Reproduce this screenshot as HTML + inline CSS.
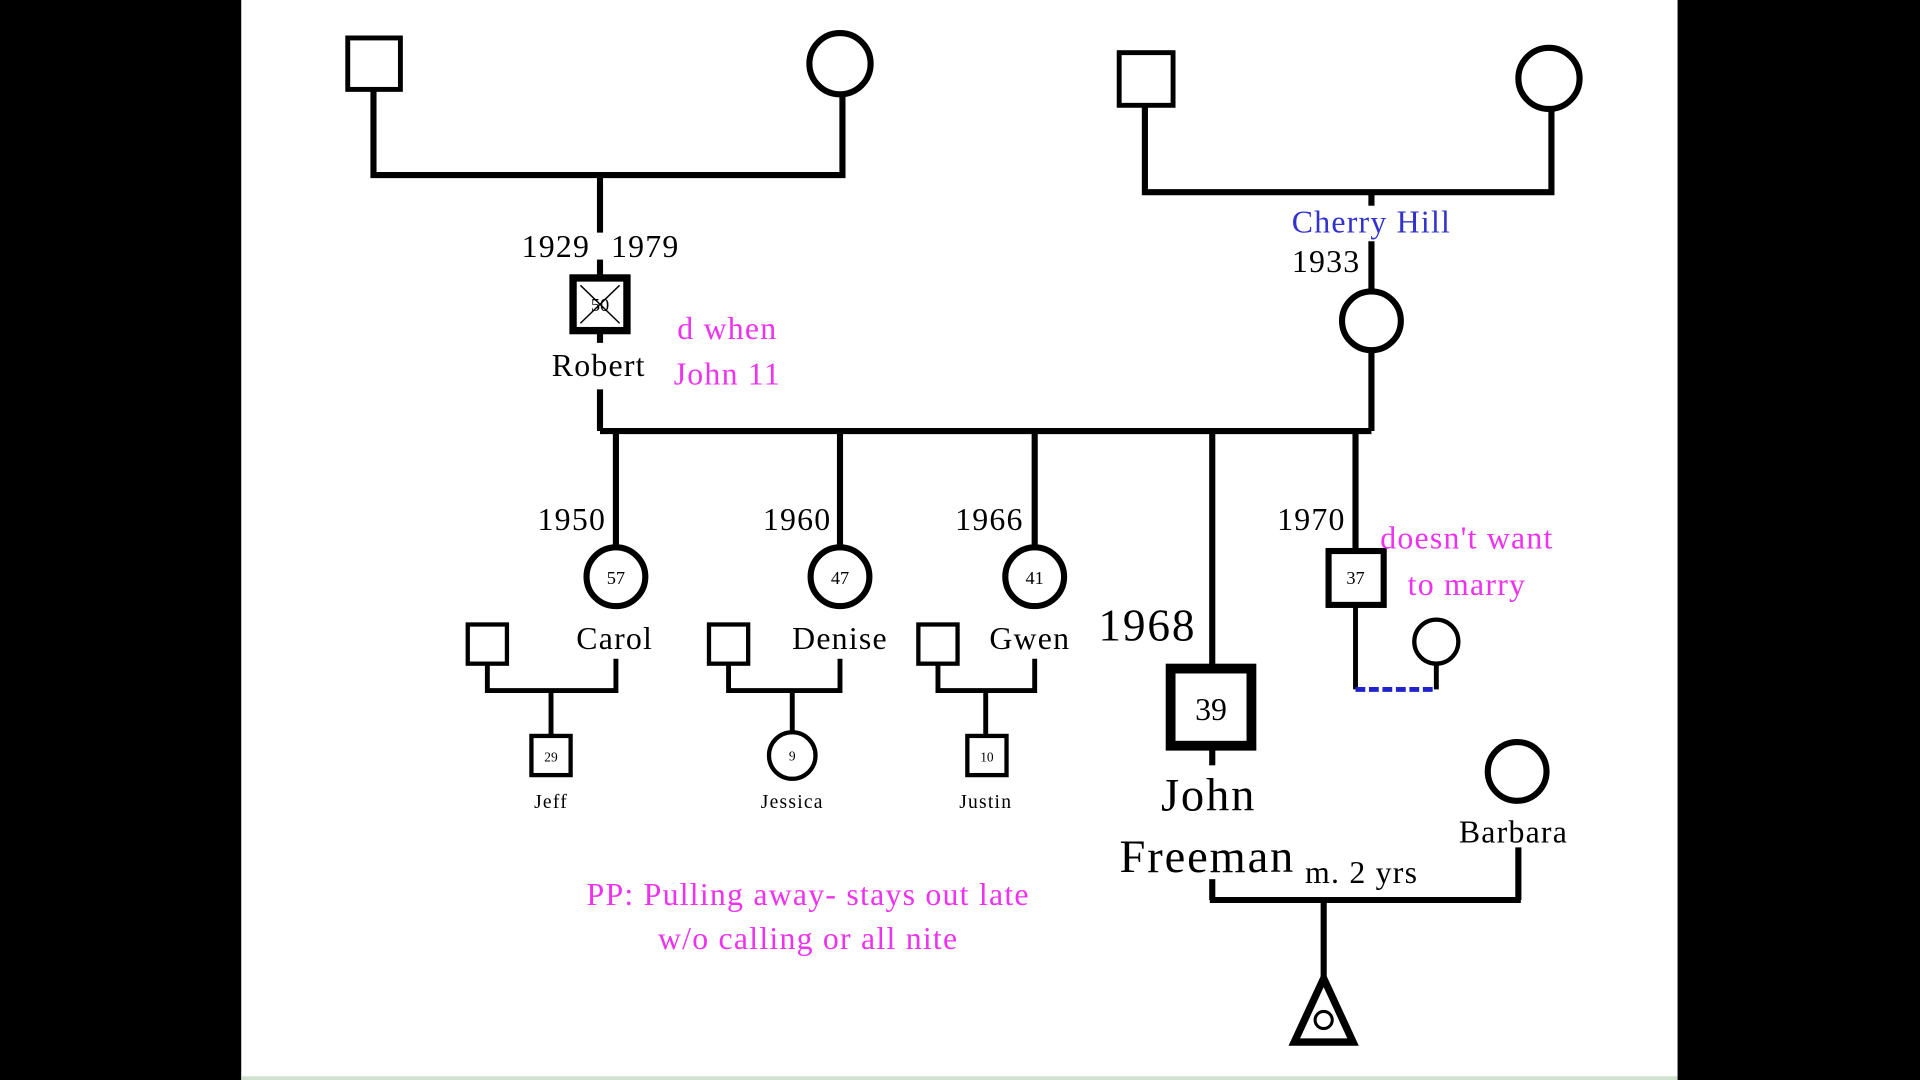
<!DOCTYPE html>
<html><head><meta charset="utf-8"><style>html,body{margin:0;padding:0;background:#000;}svg{display:block}</style></head>
<body>
<svg width="1920" height="1080" viewBox="0 0 1568 882" xmlns="http://www.w3.org/2000/svg" font-family="Liberation Serif, serif">
<rect x="0" y="0" width="1568" height="882" fill="#000"/>
<rect x="197" y="0" width="1173" height="882" fill="#fff"/>
<rect x="197" y="879" width="1173" height="3" fill="#cfe0cf"/>
<g stroke="#000" stroke-width="5" fill="none">
<rect x="284" y="31" width="43" height="42" stroke-width="4"/>
<circle cx="686" cy="52" r="25"/>
<polyline points="305,73 305,143 688,143 688,77"/>
<line x1="490" y1="143" x2="490" y2="190"/>
<line x1="490" y1="212" x2="490" y2="228"/>
<rect x="468" y="227" width="44" height="43" stroke-width="6"/>
<line x1="474" y1="233" x2="506" y2="264" stroke-width="1.2"/>
<line x1="506" y1="233" x2="474" y2="264" stroke-width="1.2"/>
<line x1="490" y1="270" x2="490" y2="280"/>
<line x1="490" y1="318" x2="490" y2="352"/>
<rect x="914" y="43" width="44" height="43" stroke-width="4"/>
<circle cx="1265" cy="64" r="25"/>
<polyline points="935,86 935,157 1267,157 1267,89"/>
<line x1="1120" y1="157" x2="1120" y2="168"/>
<line x1="1120" y1="197" x2="1120" y2="238"/>
<circle cx="1120" cy="262" r="24"/>
<line x1="1120" y1="286" x2="1120" y2="352"/>
<line x1="490" y1="352" x2="1120" y2="352"/>
<line x1="503" y1="352" x2="503" y2="447"/>
<line x1="686" y1="352" x2="686" y2="447"/>
<line x1="845" y1="352" x2="845" y2="447"/>
<line x1="990" y1="352" x2="990" y2="545"/>
<line x1="1107" y1="352" x2="1107" y2="449"/>
<circle cx="503" cy="471" r="24"/>
<circle cx="686" cy="471" r="24"/>
<circle cx="845" cy="471" r="24"/>
<rect x="1085" y="450" width="45" height="44" stroke-width="5"/>
<rect x="956" y="546" width="66" height="63" stroke-width="8"/>
<line x1="990" y1="610" x2="990" y2="625"/>
<rect x="382" y="510" width="32" height="32" stroke-width="3.5"/>
<rect x="579" y="510" width="32" height="32" stroke-width="3.5"/>
<rect x="750" y="510" width="32" height="32" stroke-width="3.5"/>
<polyline points="398,542 398,564 503,564 503,538" stroke-width="4"/>
<polyline points="595,542 595,564 686,564 686,538" stroke-width="4"/>
<polyline points="766,542 766,564 845,564 845,538" stroke-width="4"/>
<line x1="450" y1="564" x2="450" y2="601" stroke-width="4"/>
<line x1="647" y1="564" x2="647" y2="598" stroke-width="4"/>
<line x1="805" y1="564" x2="805" y2="601" stroke-width="4"/>
<rect x="434" y="601" width="32" height="32" stroke-width="3.5"/>
<circle cx="647" cy="617" r="19" stroke-width="3.5"/>
<rect x="790" y="601" width="32" height="32" stroke-width="3.5"/>
<line x1="1107" y1="494" x2="1107" y2="563" stroke-width="4"/>
<circle cx="1173" cy="524" r="18" stroke-width="3.5"/>
<line x1="1173" y1="542" x2="1173" y2="563" stroke-width="4"/>
<circle cx="1239" cy="630" r="24"/>
<line x1="1240" y1="692" x2="1240" y2="735"/>
<line x1="990" y1="718" x2="990" y2="735"/>
<line x1="988" y1="735" x2="1242" y2="735"/>
<line x1="1081" y1="735" x2="1081" y2="800"/>
<polygon points="1081,799 1057,851 1105,851" stroke-width="6"/>
<circle cx="1081" cy="833" r="7" stroke-width="2.5"/>
</g>
<line x1="1107" y1="563" x2="1173" y2="563" stroke="#2222cc" stroke-width="4" stroke-dasharray="8,3"/>
<g fill="#000" font-size="26" letter-spacing="1" text-anchor="middle">
<text x="454" y="210">1929</text>
<text x="527" y="210">1979</text>
<text x="490" y="254" font-size="15" letter-spacing="0">50</text>
<text x="489" y="307">Robert</text>
<text x="1083" y="222">1933</text>
<text x="467" y="433">1950</text>
<text x="651" y="433">1960</text>
<text x="808" y="433">1966</text>
<text x="1071" y="433">1970</text>
<text x="503" y="477" font-size="15" letter-spacing="0">57</text>
<text x="686" y="477" font-size="15" letter-spacing="0">47</text>
<text x="845" y="477" font-size="15" letter-spacing="0">41</text>
<text x="1107" y="477" font-size="15" letter-spacing="0">37</text>
<text x="502" y="530">Carol</text>
<text x="686" y="530">Denise</text>
<text x="841" y="530">Gwen</text>
<text x="937" y="523" font-size="37" letter-spacing="1.5">1968</text>
<text x="989" y="588" font-size="26" letter-spacing="0">39</text>
<text x="450" y="622" font-size="11" letter-spacing="0">29</text>
<text x="647" y="621" font-size="11" letter-spacing="0">9</text>
<text x="806" y="622" font-size="11" letter-spacing="0">10</text>
<text x="450" y="660" font-size="16">Jeff</text>
<text x="647" y="660" font-size="16">Jessica</text>
<text x="805" y="660" font-size="16">Justin</text>
<text x="987" y="662" font-size="38" letter-spacing="1.5">John</text>
<text x="986" y="712" font-size="38" letter-spacing="1.5">Freeman</text>
<text x="1112" y="721">m. 2 yrs</text>
<text x="1236" y="688">Barbara</text>
</g>
<g fill="#ee33ee" font-size="26" letter-spacing="1" text-anchor="middle">
<text x="594" y="277">d when</text>
<text x="594" y="314">John 11</text>
<text x="1198" y="448">doesn't want</text>
<text x="1198" y="486">to marry</text>
<text x="660" y="739">PP: Pulling away- stays out late</text>
<text x="660" y="775">w/o calling or all nite</text>
</g>
<text x="1120" y="190" fill="#3333cc" font-size="26" letter-spacing="1" text-anchor="middle">Cherry Hill</text>
</svg>
</body></html>
